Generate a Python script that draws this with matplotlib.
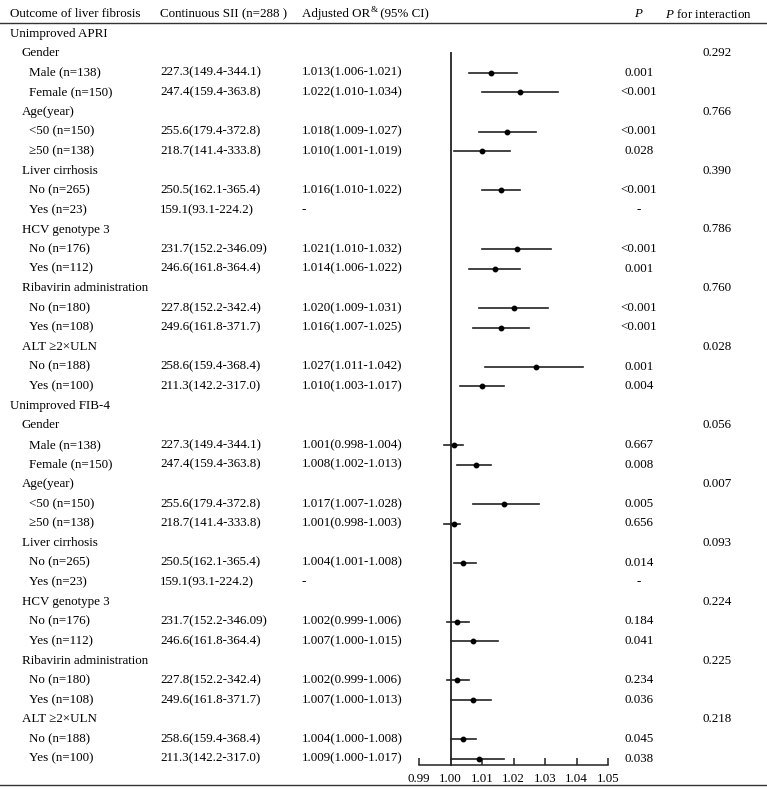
import matplotlib
matplotlib.use("Agg")
import matplotlib.pyplot as plt

plt.rcParams['font.family'] = ['Liberation Serif', 'DejaVu Serif']
plt.rcParams['mathtext.fontset'] = 'custom'
plt.rcParams['mathtext.rm'] = 'Liberation Serif'
plt.rcParams['mathtext.it'] = 'Liberation Serif:italic'

# table rows: label, indent level
labels = ["Unimproved APRI",
          "Gender", "Male (n=138)", "Female (n=150)",
          "Age(year)", "<50 (n=150)", "\u226550 (n=138)",
          "Liver cirrhosis", "No (n=265)", "Yes (n=23)",
          "HCV genotype 3", "No (n=176)", "Yes (n=112)",
          "Ribavirin administration", "No (n=180)", "Yes (n=108)",
          "ALT \u22652\u00d7ULN", "No (n=188)", "Yes (n=100)",
          "Unimproved FIB-4",
          "Gender", "Male (n=138)", "Female (n=150)",
          "Age(year)", "<50 (n=150)", "\u226550 (n=138)",
          "Liver cirrhosis", "No (n=265)", "Yes (n=23)",
          "HCV genotype 3", "No (n=176)", "Yes (n=112)",
          "Ribavirin administration", "No (n=180)", "Yes (n=108)",
          "ALT \u22652\u00d7ULN", "No (n=188)", "Yes (n=100)"]
levels = [0, 1, 2, 2, 1, 2, 2, 1, 2, 2, 1, 2, 2, 1, 2, 2, 1, 2, 2,
          0, 1, 2, 2, 1, 2, 2, 1, 2, 2, 1, 2, 2, 1, 2, 2, 1, 2, 2]

sii = ["", "", "227.3(149.4-344.1)", "247.4(159.4-363.8)",
       "", "255.6(179.4-372.8)", "218.7(141.4-333.8)",
       "", "250.5(162.1-365.4)", "159.1(93.1-224.2)",
       "", "231.7(152.2-346.09)", "246.6(161.8-364.4)",
       "", "227.8(152.2-342.4)", "249.6(161.8-371.7)",
       "", "258.6(159.4-368.4)", "211.3(142.2-317.0)"]
sii = sii + sii

# odds ratios (None = no estimate)
or_est = [None, None, 1.013, 1.022, None, 1.018, 1.010, None, 1.016, None,
          None, 1.021, 1.014, None, 1.020, 1.016, None, 1.027, 1.010,
          None, None, 1.001, 1.008, None, 1.017, 1.001, None, 1.004, None,
          None, 1.002, 1.007, None, 1.002, 1.007, None, 1.004, 1.009]
ci_lo = [None, None, 1.006, 1.010, None, 1.009, 1.001, None, 1.010, None,
         None, 1.010, 1.006, None, 1.009, 1.007, None, 1.011, 1.003,
         None, None, 0.998, 1.002, None, 1.007, 0.998, None, 1.001, None,
         None, 0.999, 1.000, None, 0.999, 1.000, None, 1.000, 1.000]
ci_hi = [None, None, 1.021, 1.034, None, 1.027, 1.019, None, 1.022, None,
         None, 1.032, 1.022, None, 1.031, 1.025, None, 1.042, 1.017,
         None, None, 1.004, 1.013, None, 1.028, 1.003, None, 1.008, None,
         None, 1.006, 1.015, None, 1.006, 1.013, None, 1.008, 1.017]

p_val = ["", "", "0.001", "<0.001", "", "<0.001", "0.028", "", "<0.001", "-",
         "", "<0.001", "0.001", "", "<0.001", "<0.001", "", "0.001", "0.004",
         "", "", "0.667", "0.008", "", "0.005", "0.656", "", "0.014", "-",
         "", "0.184", "0.041", "", "0.234", "0.036", "", "0.045", "0.038"]
p_int = ["", "0.292", "", "", "0.766", "", "", "0.390", "", "",
         "0.786", "", "", "0.760", "", "", "0.028", "", "",
         "", "0.056", "", "", "0.007", "", "", "0.093", "", "",
         "0.224", "", "", "0.225", "", "", "0.218", "", ""]

xticks = [0.99, 1.00, 1.01, 1.02, 1.03, 1.04, 1.05]

W, H = 767, 789
row0, step = 33.5, 19.6   # pixel y of first row and row spacing


def row_of(py):
    return (py - row0) / step


fig = plt.figure(figsize=(W / 100, H / 100), dpi=100)
tab = fig.add_axes([0, 0, 1, 1])
tab.set_xlim(0, W)
tab.set_ylim(row_of(H), row_of(0))
tab.axis('off')

fs = 9.4
txt = '#000000'
indent = [10, 22, 29]

# header
hy = row_of(14)
tab.text(10, hy, "Outcome of liver fibrosis", fontsize=fs, color=txt, va='center')
tab.text(160, hy, "Continuous SII (n=288 )", fontsize=fs, color=txt, va='center')
t_or = tab.text(302, hy, "Adjusted OR", fontsize=fs, color=txt, va='center')
renderer = fig.canvas.get_renderer()
bb = t_or.get_window_extent(renderer)
amp_x = bb.x1 + 0.5
tab.text(amp_x, row_of(10.5), "&", fontsize=6.5, color=txt, va='center')
tab.text(amp_x + 6, hy, " (95% CI)", fontsize=fs, color=txt, va='center')
tab.text(639, hy, r"$\it{P}$", fontsize=fs, color=txt, va='center', ha='center')
tab.text(708, hy, r"$\it{P}$ for interaction", fontsize=fs, color=txt, va='center', ha='center')
tab.axhline(row_of(23), color='#333333', lw=1.0)
tab.axhline(row_of(785), color='#333333', lw=1.0)

for i, lab in enumerate(labels):
    tab.text(indent[levels[i]], i, lab, fontsize=fs, color=txt, va='center')
    if sii[i]:
        tab.text(160, i, sii[i], fontsize=fs, color=txt, va='center')
    if or_est[i] is not None:
        s = f"{or_est[i]:.3f}({ci_lo[i]:.3f}-{ci_hi[i]:.3f})"
        tab.text(302, i, s, fontsize=fs, color=txt, va='center')
    elif sii[i]:
        tab.text(302, i, "-", fontsize=fs, color=txt, va='center')
    if p_val[i]:
        tab.text(639, i, p_val[i], fontsize=fs, color=txt, va='center', ha='center')
    if p_int[i]:
        tab.text(717, i, p_int[i], fontsize=fs, color=txt, va='center', ha='center')

# forest plot
x0, x1 = 419, 608
ax_bottom = 765
ax = fig.add_axes([x0 / W, (H - ax_bottom) / H, (x1 - x0) / W, ax_bottom / H])
ax.patch.set_alpha(0)
ax.set_xlim(0.99, 1.05)
ax.set_ylim(row_of(ax_bottom), row_of(0))
for sp in ['top', 'left', 'right']:
    ax.spines[sp].set_visible(False)
ax.spines['bottom'].set_linewidth(1.1)
ax.spines['bottom'].set_color('#222222')
ax.set_yticks([])
ax.set_xticks(xticks)
ax.set_xticklabels([f"{t:.2f}" for t in xticks], fontsize=fs, color=txt)
ax.tick_params(axis='x', direction='in', length=5, width=1.1, color='#222222', pad=6)

ax.plot([1.0, 1.0], [row_of(53), row_of(ax_bottom)], color='#333333', lw=1.4,
        clip_on=False)
for i in range(len(labels)):
    if or_est[i] is None:
        continue
    ax.plot([ci_lo[i], ci_hi[i]], [i, i], color='#222222', lw=1.2)
    ax.plot(or_est[i], i, 'o', color='#000000', ms=3.2)

fig.savefig("out.png", dpi=100)
